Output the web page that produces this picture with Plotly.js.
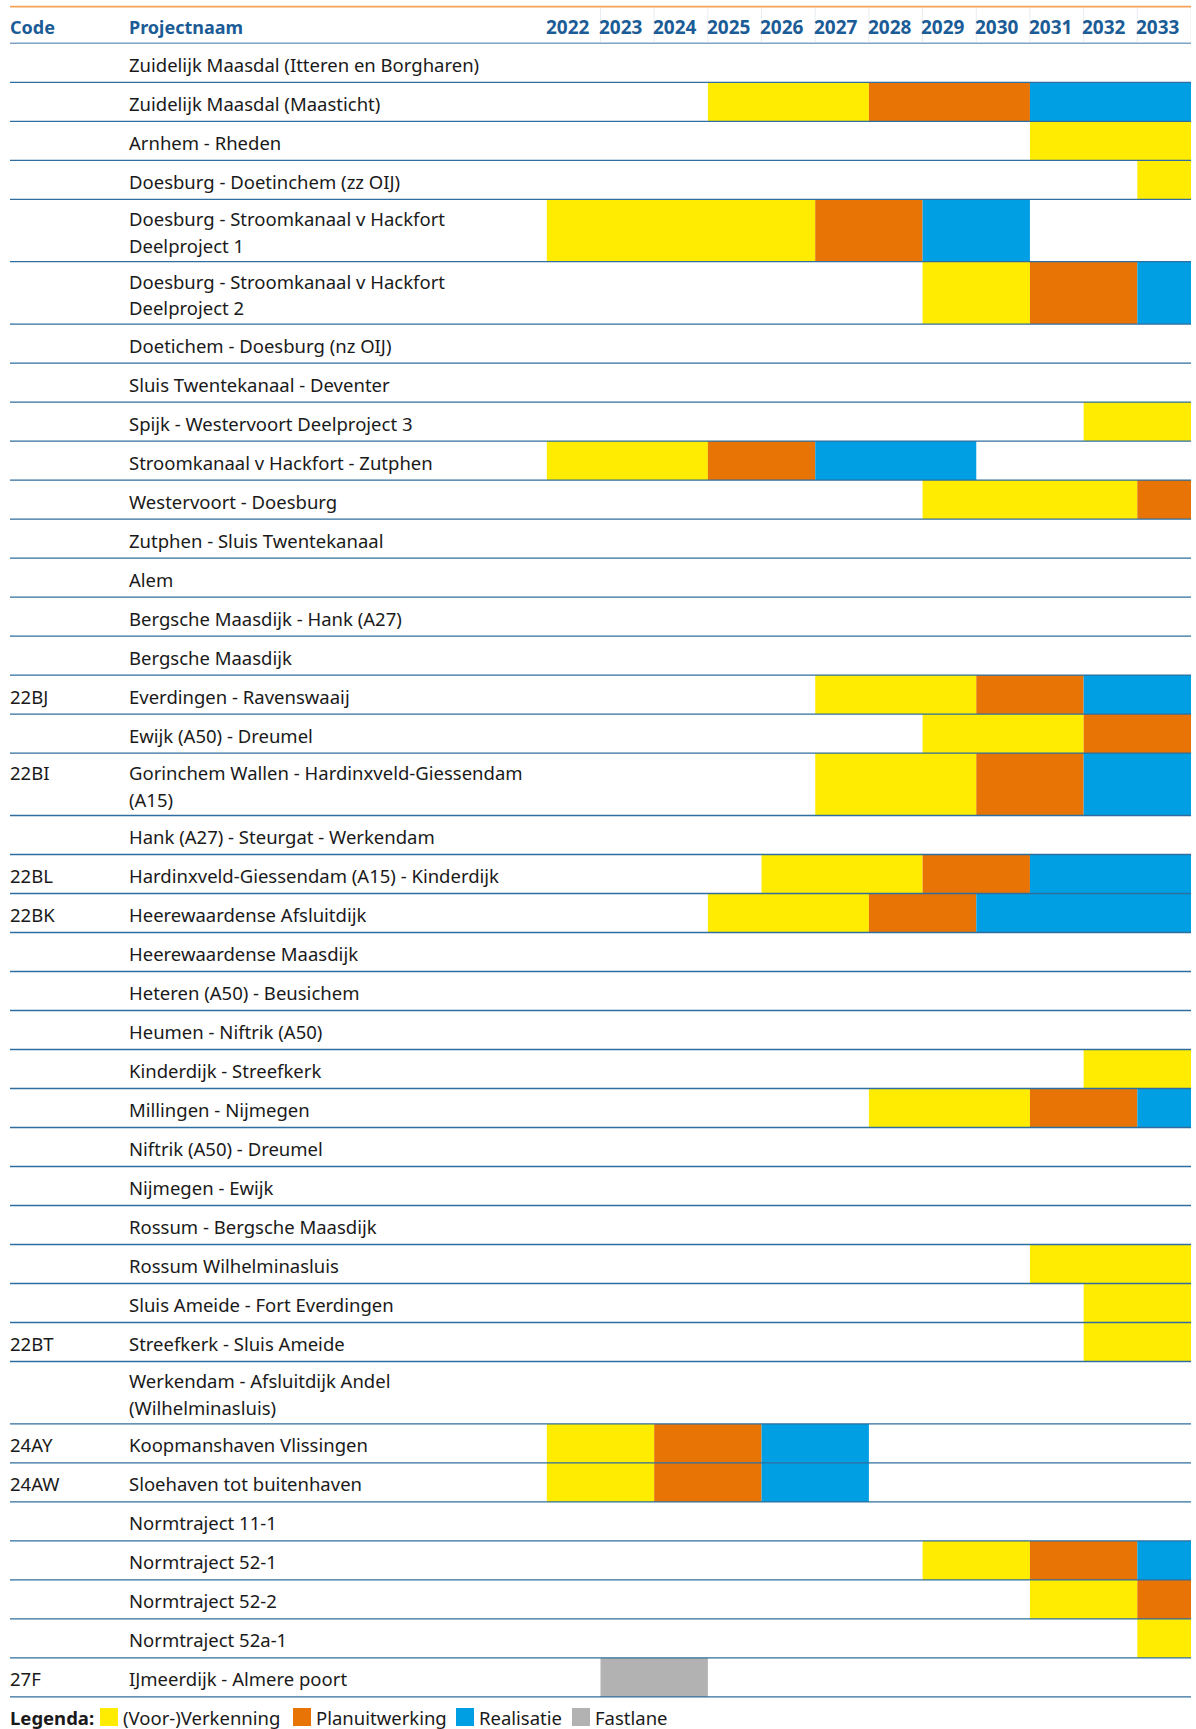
<!DOCTYPE html>
<html><head><meta charset="utf-8">
<script src="https://cdn.plot.ly/plotly-3.0.1.min.js"></script>
<style>html,body{margin:0;padding:0;background:#fff}#chart{width:1196px;height:1729px}</style>
</head><body><div id="chart"></div>
<script>
const N = null;
const years = [2022,2023,2024,2025,2026,2027,2028,2029,2030,2031,2032,2033];
const headerLabels = ["Code", "Projectnaam"];
const codes = ["","","","","","","","","","","","","","","","22BJ","","22BI","","22BL","22BK","","","","","","","","","","","22BT","","24AY","24AW","","","","","27F"];
const projects = [
  "Zuidelijk Maasdal (Itteren en Borgharen)",
  "Zuidelijk Maasdal (Maasticht)",
  "Arnhem - Rheden",
  "Doesburg - Doetinchem (zz OIJ)",
  "Doesburg - Stroomkanaal v Hackfort<br>Deelproject 1",
  "Doesburg - Stroomkanaal v Hackfort<br>Deelproject 2",
  "Doetichem - Doesburg (nz OIJ)",
  "Sluis Twentekanaal - Deventer",
  "Spijk - Westervoort Deelproject 3",
  "Stroomkanaal v Hackfort - Zutphen",
  "Westervoort - Doesburg",
  "Zutphen - Sluis Twentekanaal",
  "Alem",
  "Bergsche Maasdijk - Hank (A27)",
  "Bergsche Maasdijk",
  "Everdingen - Ravenswaaij",
  "Ewijk (A50) - Dreumel",
  "Gorinchem Wallen - Hardinxveld-Giessendam<br>(A15)",
  "Hank (A27) - Steurgat - Werkendam",
  "Hardinxveld-Giessendam (A15) - Kinderdijk",
  "Heerewaardense Afsluitdijk",
  "Heerewaardense Maasdijk",
  "Heteren (A50) - Beusichem",
  "Heumen - Niftrik (A50)",
  "Kinderdijk - Streefkerk",
  "Millingen - Nijmegen",
  "Niftrik (A50) - Dreumel",
  "Nijmegen - Ewijk",
  "Rossum - Bergsche Maasdijk",
  "Rossum Wilhelminasluis",
  "Sluis Ameide - Fort Everdingen",
  "Streefkerk - Sluis Ameide",
  "Werkendam - Afsluitdijk Andel<br>(Wilhelminasluis)",
  "Koopmanshaven Vlissingen",
  "Sloehaven tot buitenhaven",
  "Normtraject 11-1",
  "Normtraject 52-1",
  "Normtraject 52-2",
  "Normtraject 52a-1",
  "IJmeerdijk - Almere poort"
];
// phase start / end years per project (null = none)
const verkStart = [N,2025,2031,2033,2022,2029,N,N,2032,2022,2029,N,N,N,N,2027,2029,2027,N,2026,2025,N,N,N,2032,2028,N,N,N,2031,2032,2032,N,2022,2022,N,2029,2031,2033,N];
const verkEnd   = [N,2027,2033,2033,2026,2030,N,N,2033,2024,2032,N,N,N,N,2029,2031,2029,N,2028,2027,N,N,N,2033,2030,N,N,N,2033,2033,2033,N,2023,2023,N,2030,2032,2033,N];
const planStart = [N,2028,N,N,2027,2031,N,N,N,2025,2033,N,N,N,N,2030,2032,2030,N,2029,2028,N,N,N,N,2031,N,N,N,N,N,N,N,2024,2024,N,2031,2033,N,N];
const planEnd   = [N,2030,N,N,2028,2032,N,N,N,2026,2033,N,N,N,N,2031,2033,2031,N,2030,2029,N,N,N,N,2032,N,N,N,N,N,N,N,2025,2025,N,2032,2033,N,N];
const realStart = [N,2031,N,N,2029,2033,N,N,N,2027,N,N,N,N,N,2032,N,2032,N,2031,2030,N,N,N,N,2033,N,N,N,N,N,N,N,2026,2026,N,2033,N,N,N];
const realEnd   = [N,2033,N,N,2030,2033,N,N,N,2029,N,N,N,N,N,2033,N,2033,N,2033,2033,N,N,N,N,2033,N,N,N,N,N,N,N,2027,2027,N,2033,N,N,N];
const fastStart = [N,N,N,N,N,N,N,N,N,N,N,N,N,N,N,N,N,N,N,N,N,N,N,N,N,N,N,N,N,N,N,N,N,N,N,N,N,N,N,2023];
const fastEnd   = [N,N,N,N,N,N,N,N,N,N,N,N,N,N,N,N,N,N,N,N,N,N,N,N,N,N,N,N,N,N,N,N,N,N,N,N,N,N,N,2024];
const phaseNames = ["(Voor-)Verkenning", "Planuitwerking", "Realisatie", "Fastlane"];
const phaseColors = ["#FFEC00", "#E87406", "#009FE3", "#B2B2B2"];

// ---- geometry (layout only) ----
const W = 1196, H = 1729;
const mL = 10, mR = 5;
const ROW = 39;            // px per single row
const headerBottomPx = 43.3;
const xMin = 2012, xMax = years[years.length-1] + 1;
const plotW = W - mL - mR;
const px2paperX = px => (px - mL) / plotW;
const py2paper = py => 1 - py / H;

const lines = projects.map(p => p.split("<br>"));
const heights = lines.map(l => l.length === 2 ? 1.6 : 1);
const tops = []; let acc = 0;
heights.forEach(h => { tops.push(acc); acc += h; });
const centers = tops.map((t, i) => t + heights[i] / 2);

function phaseTrace(starts, ends, k) {
  const y = [], x = [], base = [], width = [];
  starts.forEach((s, i) => {
    if (s === null) return;
    y.push(centers[i]); base.push(s); x.push(ends[i] - s + 1); width.push(heights[i]);
  });
  return { type: "bar", orientation: "h", y, x, base, width, name: phaseNames[k],
    marker: { color: phaseColors[k], line: { width: 0 } }, hoverinfo: "skip", showlegend: false };
}
const data = [
  phaseTrace(verkStart, verkEnd, 0),
  phaseTrace(planStart, planEnd, 1),
  phaseTrace(realStart, realEnd, 2),
  phaseTrace(fastStart, fastEnd, 3)
];

const FAM = "Noto Sans, Open Sans, sans-serif";
const font = { family: FAM, size: 18.5, color: "#1a1a1a" };
const hfont = { family: FAM, size: 18, color: "#1b5c96", weight: "bold" };
const annotations = [];
const shapes = [];

// top orange line
shapes.push({ type: "line", xref: "x", yref: "paper", x0: xMin, x1: xMax, y0: py2paper(6.6), y1: py2paper(6.6),
  line: { color: "#F4A259", width: 1.6 } });
// faint column separators in header
years.concat([xMax]).forEach(yr => {
  if (yr === years[0]) return;
  shapes.push({ type: "line", xref: "x", yref: "paper", x0: yr, x1: yr, y0: py2paper(7.5), y1: py2paper(42.5),
    line: { color: "#e8edf2", width: 1 }, layer: "below" });
});
// header line
shapes.push({ type: "line", xref: "x", yref: "y", x0: xMin, x1: xMax, y0: 0, y1: 0, line: { color: "#7FA3C4", width: 1.5 } });
// row lines
tops.forEach((t, i) => {
  const yb = t + heights[i];
  shapes.push({ type: "line", xref: "x", yref: "y", x0: xMin, x1: xMax, y0: yb, y1: yb,
    line: { color: "#2F6E9E", width: 1.3 } });
});

// headers
const hy = py2paper(26.5);
annotations.push({ xref: "paper", yref: "paper", x: px2paperX(8), y: hy, text: headerLabels[0], showarrow: false, xanchor: "left", yanchor: "middle", font: hfont });
annotations.push({ xref: "paper", yref: "paper", x: px2paperX(127), y: hy, text: headerLabels[1], showarrow: false, xanchor: "left", yanchor: "middle", font: hfont });
years.forEach(yr => {
  annotations.push({ xref: "x", yref: "paper", x: yr - 0.06, y: hy, text: String(yr), showarrow: false, xanchor: "left", yanchor: "middle",
    font: Object.assign({}, hfont, { size: 19 }) });
});

// row texts
const lineGap = 26.5 / ROW;
const textNudge = 1.5 / ROW;
projects.forEach((p, i) => {
  const ls = lines[i];
  const c = centers[i] + textNudge;
  const ys = ls.length === 2 ? [c - lineGap / 2, c + lineGap / 2] : [c];
  ls.forEach((t, j) => {
    annotations.push({ xref: "paper", yref: "y", x: px2paperX(127), y: ys[j], text: t, showarrow: false, xanchor: "left", yanchor: "middle", font });
  });
  if (codes[i]) {
    annotations.push({ xref: "paper", yref: "y", x: px2paperX(8), y: ys[0], text: codes[i], showarrow: false, xanchor: "left", yanchor: "middle", font });
  }
});

// legend
const ly = py2paper(1717);
annotations.push({ xref: "paper", yref: "paper", x: px2paperX(8), y: ly, text: "Legenda:", showarrow: false, xanchor: "left", yanchor: "middle", font: Object.assign({}, font, { weight: "bold" }) });
const legSq = [100, 293, 456, 572];
legSq.forEach((sx, k) => {
  shapes.push({ type: "rect", xref: "paper", yref: "paper", x0: px2paperX(sx), x1: px2paperX(sx + 18), y0: py2paper(1708), y1: py2paper(1726),
    fillcolor: phaseColors[k], line: { width: 0 } });
  annotations.push({ xref: "paper", yref: "paper", x: px2paperX(sx + 21), y: ly, text: phaseNames[k], showarrow: false, xanchor: "left", yanchor: "middle", font });
});

const layout = {
  width: W, height: H,
  margin: { l: mL, r: mR, t: 0, b: 0, pad: 0 },
  paper_bgcolor: "#ffffff", plot_bgcolor: "#ffffff",
  barmode: "overlay",
  showlegend: false,
  xaxis: { range: [xMin, xMax], visible: false, fixedrange: true },
  yaxis: { range: [(H - headerBottomPx) / ROW, -headerBottomPx / ROW], visible: false, fixedrange: true },
  shapes, annotations
};
Plotly.newPlot("chart", data, layout, { displayModeBar: false, staticPlot: true });
</script>
</body></html>
